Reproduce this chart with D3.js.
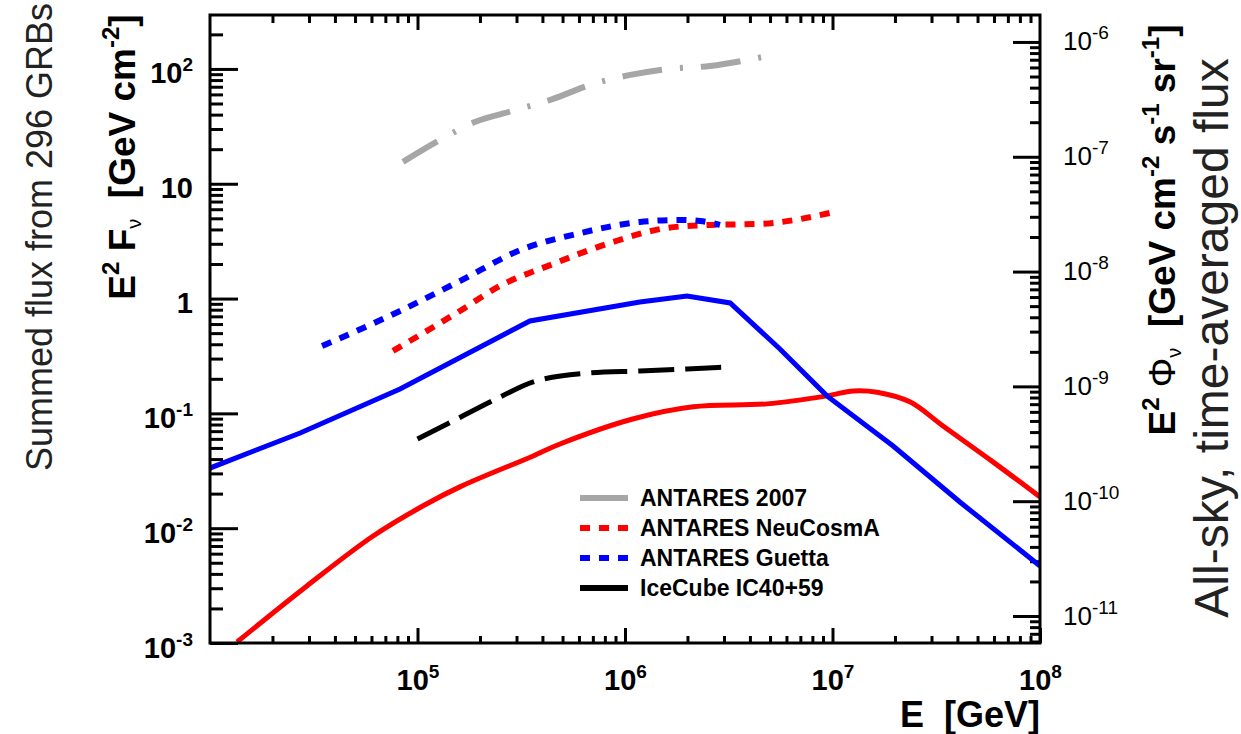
<!DOCTYPE html>
<html>
<head>
<meta charset="utf-8">
<script src="https://cdn.jsdelivr.net/npm/d3@7"></script>
<style>
    body { margin: 0; background: #fff; }
    text { font-family: "Liberation Sans", Arial, Helvetica, sans-serif; white-space: pre; fill: #000; }
</style>
</head>
<body>
<div id="grb-flux"></div>
<script>
// energy E [GeV] vs E^2 F [GeV cm^-2]
var vAntares2007 = [[8.51e4, 15.5], [1.26e5, 23.6], [1.89e5, 34.5], [2.88e5, 43.1], [4.50e5, 54.8],
    [6.78e5, 72.6], [1.06e6, 88.7], [1.61e6, 100], [2.57e6, 106], [3.92e6, 120], [4.89e6, 130]];
var vAntaresNeuCosmA = [[7.62e4, 0.350], [1.60e5, 0.780], [2.50e5, 1.29], [4.50e5, 2.00], [8.75e5, 3.11],
    [1.59e6, 4.12], [2.57e6, 4.38], [4.48e6, 4.47], [9.73e6, 5.57]];
var vAntaresGuetta = [[3.47e4, 0.386], [8.24e4, 0.780], [1.60e5, 1.42], [3.22e5, 2.70], [5.87e5, 3.66],
    [1.18e6, 4.65], [1.84e6, 4.84], [2.30e6, 4.74], [2.87e6, 4.38]];
var vIceCube = [[1.00e5, 0.0598], [1.33e5, 0.0776], [2.50e5, 0.139], [3.61e5, 0.188], [6.78e5, 0.225],
    [1.18e6, 0.234], [1.99e6, 0.244], [3.13e6, 0.254]];
// model predictions
var vGuettaModel = [[1.00e4, 0.0334], [2.72e4, 0.0675], [8.24e4, 0.163], [3.48e5, 0.638], [1.18e6, 0.933],
    [1.99e6, 1.054], [3.21e6, 0.916], [5.58e6, 0.364], [9.40e6, 0.142], [1.96e7, 0.052], [4.11e7, 0.0169],
    [1.00e8, 0.00469]];
var vNeuCosmAModel = [[1.35e4, 1.02e-3], [2.93e4, 3.14e-3], [6.11e4, 8.55e-3], [1.06e5, 0.0156],
    [1.60e5, 0.0229], [3.61e5, 0.0426], [4.86e5, 0.0541], [1.09e6, 0.0893], [2.13e6, 0.114], [4.83e6, 0.121],
    [9.40e6, 0.142], [1.26e7, 0.157], [1.64e7, 0.153], [2.36e7, 0.126], [3.41e7, 0.0776], [5.93e7, 0.0378],
    [1.00e8, 0.0187]];

// axis ranges, ticks and labels
var vXDomain = [1e4, 1e8];
var vYDomain = [1e-3, 295];
var vRightFactor = 5.82e-9; // E^2 Phi [GeV cm^-2 s^-1 sr^-1] per E^2 F
var vLeftTicks = [1e-3, 1e-2, 1e-1, 1, 10, 100];
var vLeftTickLabels = [["10", "-3"], ["10", "-2"], ["10", "-1"], ["1", ""], ["10", ""], ["10", "2"]];
var vRightTicks = [1e-11, 1e-10, 1e-9, 1e-8, 1e-7, 1e-6];
var vRightTickLabels = [["10", "-11"], ["10", "-10"], ["10", "-9"], ["10", "-8"], ["10", "-7"], ["10", "-6"]];
var vBottomTicks = [1e5, 1e6, 1e7, 1e8];
var vBottomTickLabels = [["10", "5"], ["10", "6"], ["10", "7"], ["10", "8"]];
var vLegendNames = ["ANTARES 2007", "ANTARES NeuCosmA", "ANTARES Guetta", "IceCube IC40+59"];

(function () {
    "use strict";

    // set the dimensions and margins of the graph
    var vMargin = { mTop: 15, mLeft: 210 },
        vWidth = 830,
        vHeight = 628;

    var svg = d3.select("#grb-flux")
        .append("svg")
        .attr("width", 1241)
        .attr("height", 734);

    var g = svg.append("g")
        .attr("transform", "translate(" + vMargin.mLeft + "," + vMargin.mTop + ")");

    var x = d3.scaleLog().domain(vXDomain).range([0, vWidth]);
    var y = d3.scaleLog().domain(vYDomain).range([vHeight, 0]);
    var y2 = d3.scaleLog()
        .domain([vYDomain[0] * vRightFactor, vYDomain[1] * vRightFactor])
        .range([vHeight, 0]);

    // minor ticks 2..9 of every decade inside a domain
    function minorTicks(aDomain) {
        var vOut = [];
        var vLo = Math.floor(Math.log10(aDomain[0])), vHi = Math.ceil(Math.log10(aDomain[1]));
        for (var d = vLo; d <= vHi; d++) {
            for (var k = 2; k <= 9; k++) {
                var v = k * Math.pow(10, d);
                if (v > aDomain[0] && v < aDomain[1]) vOut.push(v);
            }
        }
        return vOut;
    }

    function drawAxis(aAxis, aTransform) {
        var vAxisG = g.append("g")
            .attr("transform", aTransform || null)
            .call(aAxis.tickSizeOuter(0).tickFormat(""));
        vAxisG.select(".domain").remove();
        vAxisG.selectAll(".tick line").attr("stroke", "#000").attr("stroke-width", 3);
        vAxisG.selectAll(".tick text").remove();
        return vAxisG;
    }

    // "10" with a raised exponent
    function addPowerLabel(aSel, aParts, aSmall, aShift) {
        aSel.append("tspan").text(aParts[0]);
        if (aParts[1] !== "") {
            aSel.append("tspan")
                .attr("font-size", aSmall)
                .attr("dy", -aShift)
                .text(aParts[1]);
        }
    }

    // left axis
    drawAxis(d3.axisLeft(y).tickValues(minorTicks(vYDomain)).tickSize(-13));
    var vLeft = drawAxis(d3.axisLeft(y).tickValues(vLeftTicks).tickSize(-28));
    vLeft.selectAll(".tick").each(function (d, i) {
        var t = d3.select(this).append("text")
            .attr("x", -17).attr("y", 14)
            .attr("text-anchor", "end")
            .attr("font-weight", "bold")
            .attr("font-size", 29);
        addPowerLabel(t, vLeftTickLabels[i], 19, 12);
    });

    // right axis
    drawAxis(d3.axisRight(y2).tickValues(minorTicks(y2.domain())).tickSize(-10), "translate(" + vWidth + ",0)");
    var vRight = drawAxis(d3.axisRight(y2).tickValues(vRightTicks).tickSize(-27), "translate(" + vWidth + ",0)");
    vRight.selectAll(".tick").each(function (d, i) {
        var t = d3.select(this).append("text")
            .attr("x", 23).attr("y", 8)
            .attr("text-anchor", "start")
            .attr("font-size", 26);
        addPowerLabel(t, vRightTickLabels[i], 19, 11);
    });

    // bottom and top axes
    drawAxis(d3.axisBottom(x).tickValues(minorTicks(vXDomain)).tickSize(-7), "translate(0," + vHeight + ")");
    var vBottom = drawAxis(d3.axisBottom(x).tickValues(vBottomTicks).tickSize(-15), "translate(0," + vHeight + ")");
    vBottom.selectAll(".tick").each(function (d, i) {
        var t = d3.select(this).append("text")
            .attr("x", 0).attr("y", 47)
            .attr("text-anchor", "middle")
            .attr("font-weight", "bold")
            .attr("font-size", 29);
        addPowerLabel(t, vBottomTickLabels[i], 19, 12);
    });
    drawAxis(d3.axisTop(x).tickValues(minorTicks(vXDomain)).tickSize(-8));
    drawAxis(d3.axisTop(x).tickValues([1e5, 1e6, 1e7]).tickSize(-15));

    // curves
    g.append("clipPath").attr("id", "plot-clip")
        .append("rect").attr("width", vWidth).attr("height", vHeight);

    var vSeries = [
        { mData: vNeuCosmAModel, mColor: "#ff0000", mWidth: 5, mDash: null, mCurve: d3.curveCatmullRom },
        { mData: vGuettaModel, mColor: "#0000ff", mWidth: 5, mDash: null, mCurve: d3.curveLinear },
        { mData: vAntares2007, mColor: "#a6a6a6", mWidth: 6, mDash: "40,18,3,18", mCurve: d3.curveMonotoneX },
        { mData: vAntaresNeuCosmA, mColor: "#ff0000", mWidth: 6, mDash: "10,9", mCurve: d3.curveMonotoneX },
        { mData: vAntaresGuetta, mColor: "#0000ff", mWidth: 6, mDash: "10,9", mCurve: d3.curveMonotoneX },
        { mData: vIceCube, mColor: "#000000", mWidth: 5, mDash: "36,11", mCurve: d3.curveMonotoneX }
    ];

    var vCurves = g.append("g").attr("clip-path", "url(#plot-clip)");
    vSeries.forEach(function (aItem) {
        var vLine = d3.line()
            .x(function (d) { return x(d[0]); })
            .y(function (d) { return y(d[1]); })
            .curve(aItem.mCurve);
        vCurves.append("path")
            .datum(aItem.mData)
            .attr("d", vLine)
            .attr("fill", "none")
            .attr("stroke", aItem.mColor)
            .attr("stroke-width", aItem.mWidth)
            .attr("stroke-dasharray", aItem.mDash);
    });

    // frame
    g.append("rect")
        .attr("width", vWidth).attr("height", vHeight)
        .attr("fill", "none").attr("stroke", "#000").attr("stroke-width", 3);

    // legend
    var vLegendStyles = [
        { mColor: "#a6a6a6", mDash: null },
        { mColor: "#ff0000", mDash: "10,9" },
        { mColor: "#0000ff", mDash: "10,9" },
        { mColor: "#000000", mDash: null }
    ];
    var vLegend = svg.append("g").attr("transform", "translate(580,498)");
    vLegendNames.forEach(function (aName, i) {
        var vRow = vLegend.append("g").attr("transform", "translate(0," + (i * 30) + ")");
        vRow.append("line")
            .attr("x1", 0).attr("x2", 48)
            .attr("stroke", vLegendStyles[i].mColor)
            .attr("stroke-width", 6)
            .attr("stroke-dasharray", vLegendStyles[i].mDash);
        vRow.append("text")
            .attr("x", 60).attr("y", 8)
            .attr("font-size", 23).attr("font-weight", "bold")
            .text(aName);
    });

    // axis titles
    svg.append("text")
        .attr("x", 1040).attr("y", 727)
        .attr("text-anchor", "end")
        .attr("font-size", 36).attr("font-weight", "bold")
        .text("E  [GeV]");

    var vLeftTitle = svg.append("text")
        .attr("transform", "translate(135,157) rotate(-90)")
        .attr("text-anchor", "middle")
        .attr("font-size", 37).attr("font-weight", "bold");
    vLeftTitle.append("tspan").text("E");
    vLeftTitle.append("tspan").attr("font-size", 24).attr("dy", -16).text("2");
    vLeftTitle.append("tspan").attr("dy", 16).text(" F");
    vLeftTitle.append("tspan").attr("font-size", 20).attr("dy", 6).attr("font-weight", "normal").text("ν");
    vLeftTitle.append("tspan").attr("dy", -6).text("  [GeV cm");
    vLeftTitle.append("tspan").attr("font-size", 24).attr("dy", -16).text("-2");
    vLeftTitle.append("tspan").attr("dy", 16).text("]");

    svg.append("text")
        .attr("transform", "translate(52,237) rotate(-90)")
        .attr("text-anchor", "middle")
        .attr("font-size", 36).style("fill", "#222")
        .text("Summed flux from 296 GRBs");

    var vRightTitle = svg.append("text")
        .attr("transform", "translate(1175,230) rotate(-90)")
        .attr("text-anchor", "middle")
        .attr("font-size", 37).attr("font-weight", "bold");
    vRightTitle.append("tspan").text("E");
    vRightTitle.append("tspan").attr("font-size", 24).attr("dy", -16).text("2");
    vRightTitle.append("tspan").attr("dy", 16).attr("font-weight", "normal").text(" Φ");
    vRightTitle.append("tspan").attr("font-size", 20).attr("dy", 6).attr("font-weight", "normal").text("ν");
    vRightTitle.append("tspan").attr("dy", -6).text("  [GeV cm");
    vRightTitle.append("tspan").attr("font-size", 24).attr("dy", -16).text("-2");
    vRightTitle.append("tspan").attr("dy", 16).text(" s");
    vRightTitle.append("tspan").attr("font-size", 24).attr("dy", -16).text("-1");
    vRightTitle.append("tspan").attr("dy", 16).text(" sr");
    vRightTitle.append("tspan").attr("font-size", 24).attr("dy", -16).text("-1");
    vRightTitle.append("tspan").attr("dy", 16).text("]");

    svg.append("text")
        .attr("transform", "translate(1228,338) rotate(-90)")
        .attr("text-anchor", "middle")
        .attr("font-size", 48).style("fill", "#222")
        .text("All-sky, time-averaged flux");
})();
</script>
</body>
</html>
